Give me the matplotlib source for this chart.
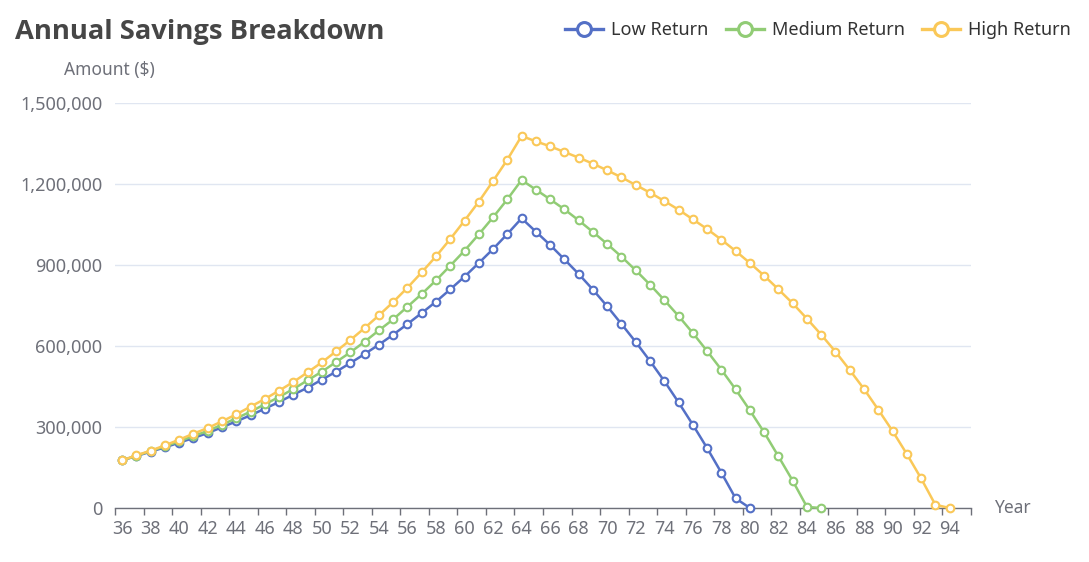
import numpy as np
import matplotlib
matplotlib.use("Agg")
from matplotlib import pyplot as plt
from matplotlib.lines import Line2D
from matplotlib.ticker import FuncFormatter, FixedLocator

plt.rcParams['font.family'] = ['Noto Sans', 'DejaVu Sans']

# ages 36..95 (95 carries no data)
ages = list(range(36, 96))

low_return = [176500, 192600, 208600, 224700, 242000, 259300, 277800, 298800, 321000, 343200,
              367900, 392600, 419800, 445700, 475300, 504900, 537000, 570400, 605000, 642000,
              681500, 722200, 764200, 809900, 856800, 907400, 959300, 1014800, 1072900, 1023500,
              974100, 921000, 866700, 808700, 746900, 681500, 614800, 544500, 470400, 391400,
              308600, 222200, 130900, 35800, 0]

medium_return = [176500, 193800, 211100, 228400, 246900, 266700, 285200, 308600, 332100, 356800,
                 384000, 411100, 440800, 472900, 504900, 540800, 576600, 616100, 658000, 698800,
                 745700, 792600, 843200, 897500, 953100, 1013600, 1076600, 1143200, 1214800, 1179000,
                 1143200, 1106200, 1065400, 1022200, 977800, 930900, 880300, 827200, 770400, 711100,
                 648200, 581500, 512400, 439500, 361700, 280300, 191400, 101200, 4000, 0]

high_return = [176500, 195000, 212350, 232100, 253100, 275300, 296300, 321000, 346900, 375300,
               403700, 434600, 466700, 502500, 539500, 580300, 622300, 666700, 713600, 763000,
               816000, 872900, 932100, 996300, 1064200, 1134600, 1211100, 1290100, 1377800, 1358000,
               1339500, 1318500, 1297600, 1275300, 1250600, 1224700, 1196300, 1167900, 1137100, 1105000,
               1069200, 1033400, 993800, 951900, 907400, 860500, 809900, 758000, 701200, 642000,
               579000, 511100, 440800, 364200, 285200, 200000, 109900, 12000, 0]

series_names = ['Low Return', 'Medium Return', 'High Return']
series_data = [low_return, medium_return, high_return]
colors = ['#5470c6', '#91cc75', '#fac858']

W, H = 1089, 562
fig = plt.figure(figsize=(W / 100, H / 100), dpi=100)
ax = fig.add_axes([115 / W, 1 - 508 / H, (971 - 115) / W, (508 - 103) / H])

n = len(ages)
x = np.arange(n)
for name, vals, c in zip(series_names, series_data, colors):
    y = np.full(n, np.nan)
    y[:len(vals)] = vals
    ax.plot(x, y, color=c, lw=1.8, marker='o', ms=5.5, mfc='white', mec=c, mew=1.5,
            label=name, clip_on=False, solid_joinstyle='round')

ax.set_xlim(-0.5, n - 0.5)
ax.set_ylim(0, 1500000)
ax.set_yticks(np.arange(0, 1500001, 300000))
ax.yaxis.set_major_formatter(FuncFormatter(lambda v, p: f'{int(v):,}'))
ax.grid(axis='y', color='#E0E6F1', lw=1)
ax.set_axisbelow(True)

# labels centred in each band, ticks on band boundaries
ax.xaxis.set_major_locator(FixedLocator(np.arange(0, n, 2)))
ax.set_xticklabels([str(a) for a in ages[::2]])
ax.xaxis.set_minor_locator(FixedLocator(np.arange(-0.5, n, 2)))
ax.tick_params(axis='x', which='major', length=0, pad=9, labelsize=13, labelcolor='#6E7079')
ax.tick_params(axis='x', which='minor', length=5, width=1, color='#6E7079')
ax.tick_params(axis='y', length=0, pad=9, labelsize=13, labelcolor='#6E7079')

for s in ['top', 'right', 'left']:
    ax.spines[s].set_visible(False)
ax.spines['bottom'].set_color('#6E7079')
ax.spines['bottom'].set_linewidth(1)
ax.spines['bottom'].set_zorder(1)

fig.text(109 / W, 1 - 70 / H, 'Amount ($)', ha='center', va='center', fontsize=12.5, color='#6E7079')
fig.text(994 / W, 1 - 508 / H, 'Year', ha='left', va='center', fontsize=12.5, color='#6E7079')
fig.text(15 / W, 1 - 32 / H, 'Annual Savings Breakdown', ha='left', va='center',
         fontsize=19.7, fontweight='bold', color='#464646',
         family=['Open Sans', 'DejaVu Sans'])

labels = series_names
handles = [Line2D([], [], color=c, lw=2.4, marker='o', ms=10, mfc='white', mec=c, mew=2.2)
           for c in colors]
fig.legend(handles, labels, loc='center right', bbox_to_anchor=(1080 / W, 1 - 30 / H),
           ncol=3, frameon=False, fontsize=13, handlelength=2.1, handletextpad=0.45,
           columnspacing=0.95, borderpad=0, labelcolor='#333333')

fig.savefig('out.png', dpi=100)
